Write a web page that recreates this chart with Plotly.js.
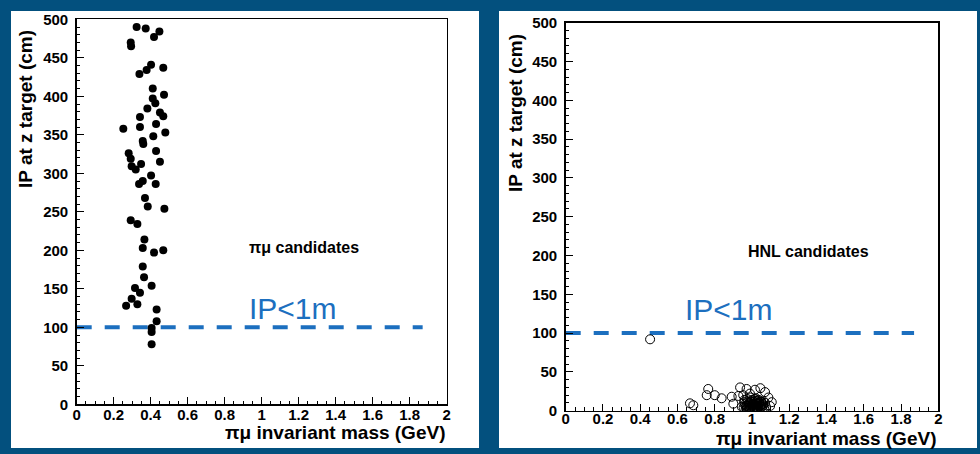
<!DOCTYPE html>
<html>
<head>
<meta charset="utf-8">
<script src="https://cdn.plot.ly/plotly-3.0.1.min.js"></script>
<style>html,body{margin:0;padding:0;background:#03507e;}#chart{width:980px;height:454px;}</style>
</head>
<body>
<div id="chart"></div>
<script>
// πμ candidates (left panel)
const pimuX = [0.324,0.373,0.447,0.418,0.292,0.294,0.468,0.402,0.378,0.339,0.411,0.472,0.411,0.425,0.382,0.450,0.468,0.342,0.252,0.342,0.479,0.429,0.414,0.357,0.360,0.429,0.281,0.292,0.450,0.348,0.297,0.319,0.402,0.357,0.337,0.427,0.369,0.384,0.474,0.292,0.328,0.366,0.357,0.418,0.468,0.357,0.364,0.405,0.315,0.342,0.297,0.267,0.328,0.432,0.432,0.405,0.405,0.405];
const pimuY = [490,488,484,477,470,465,437,441,434,429,410,402,397,391,384,379,374,373,358,360,353,364,348,342,338,329,326,319,315,312,309,305,297,290,286,286,268,257,254,239,234,214,203,197,200,179,165,154,151,145,137,128,130,123,108,99,94,78];

// HNL candidates (right panel)
const hnlX = [0.453,0.667,0.685,0.765,0.757,0.800,0.837,0.900,0.891,0.936,0.927,0.953,0.971,1.016,1.045,1.070,1.088,1.106,1.097,0.989,0.960,
  0.960,0.970,0.975,0.980,0.985,0.990,0.995,1.000,1.000,1.005,1.010,1.010,1.015,1.020,1.025,1.030,1.030,1.035,1.040,1.045,1.050,1.055,1.060,1.065,0.955,0.965,1.000,0.990,1.020,1.070,0.945,1.075,
  0.968,0.982,0.993,1.008,1.018,1.028,1.038,1.048,1.058,0.975,0.988,1.003,1.013,1.023,1.033,1.043,1.053,0.978,0.998,1.016,1.036,1.051,
  0.972,0.986,1.006,1.026,1.046,0.958,1.062,0.996,1.031,1.011];
const hnlY = [92,9.5,7,28,20,20,16,9,18,30,19,20,28,27,29,24,17,11,6,22,14,
  8,3,12,6,1,10,4,14,7,2,11,5,0.5,8,3,13,6,1,9,4,11,2,7,3,4,1,0.5,17,16,10,5,5,
  6,9,12,9,13,10,11,12,9,15,3,5,4,11,2,6,5,1,8,15,14,8,
  7,3,8,2,7,11,12,12,9,3];

// cut line IP < 1 m
const cutX = [0, 1.87];
const cutY = [100, 100];

const tickVals = [0,50,100,150,200,250,300,350,400,450,500];
const xTickVals = [0,0.2,0.4,0.6,0.8,1,1.2,1.4,1.6,1.8,2];
const xTickText = ['0','0.2','0.4','0.6','0.8','1','1.2','1.4','1.6','1.8','2'];

const W = 980, H = 454;
const px = v => v / W, py = v => 1 - v / H;

const blue = '#1c6fbf';
const tickFont = {family: 'Liberation Sans, Arial, sans-serif', size: 15, color: '#000', weight: 'bold'};

function xax(domain, anchor, standoff) {
  return {domain: domain, anchor: anchor, range: [0, 2], tickvals: xTickVals, ticktext: xTickText,
    ticks: 'inside', ticklen: 7, tickwidth: 1, tickcolor: '#000', showline: true, mirror: true,
    linecolor: '#000', linewidth: 1.5, showgrid: false, zeroline: false, tickfont: tickFont,
    ticklabelstandoff: standoff,
    minor: {dtick: 0.05, tick0: 0, ticks: 'inside', ticklen: 3.5, tickcolor: '#000', tickwidth: 1, showgrid: false}};
}
function yax(domain, anchor) {
  return {domain: domain, anchor: anchor, range: [0, 500], tickvals: tickVals,
    ticks: 'inside', ticklen: 7, tickwidth: 1, tickcolor: '#000', showline: true, mirror: true,
    linecolor: '#000', linewidth: 1.5, showgrid: false, zeroline: false, tickfont: tickFont,
    ticklabelstandoff: 4,
    minor: {dtick: 10, tick0: 0, ticks: 'inside', ticklen: 3.5, tickcolor: '#000', tickwidth: 1, showgrid: false}};
}

const data = [
  {x: cutX, y: cutY, xaxis: 'x', yaxis: 'y', mode: 'lines', line: {color: blue, width: 4, dash: '15px,13px'}, hoverinfo: 'skip'},
  {x: pimuX, y: pimuY, xaxis: 'x', yaxis: 'y', mode: 'markers', marker: {color: '#000', size: 8, symbol: 'circle'}},
  {x: cutX, y: cutY, xaxis: 'x2', yaxis: 'y2', mode: 'lines', line: {color: blue, width: 4, dash: '15px,13px'}, hoverinfo: 'skip'},
  {x: hnlX, y: hnlY, xaxis: 'x2', yaxis: 'y2', mode: 'markers', marker: {color: '#000', size: 9, symbol: 'circle-open', line: {color: '#000', width: 1}}}
];

const titleFont = {family: 'Liberation Sans, Arial, sans-serif', size: 19, color: '#000', weight: 'bold'};
const labFont = {family: 'Liberation Sans, Arial, sans-serif', size: 16, color: '#000', weight: 'bold'};
const cutFont = {family: 'Liberation Sans, Arial, sans-serif', size: 30, color: blue};

const layout = {
  width: W, height: H,
  margin: {l: 0, r: 0, t: 0, b: 0},
  paper_bgcolor: '#03507e', plot_bgcolor: 'rgba(0,0,0,0)',
  showlegend: false,
  xaxis: xax([px(76.7), px(446.7)], 'y', -4),
  yaxis: yax([py(404.3), py(19.3)], 'x'),
  xaxis2: xax([px(565.7), px(938.3)], 'y2', -6),
  yaxis2: yax([py(410.7), py(22.7)], 'x2'),
  shapes: [
    {type: 'rect', xref: 'paper', yref: 'paper', x0: px(11), x1: px(479), y0: py(448), y1: py(11), fillcolor: '#fff', line: {width: 0}, layer: 'below'},
    {type: 'rect', xref: 'paper', yref: 'paper', x0: px(499), x1: px(977), y0: py(448), y1: py(11), fillcolor: '#fff', line: {width: 0}, layer: 'below'}
  ],
  annotations: [
    {xref: 'paper', yref: 'paper', x: px(26), y: py(109), text: 'IP at z target (cm)', textangle: -90, showarrow: false, font: titleFont, xanchor: 'center', yanchor: 'middle'},
    {xref: 'paper', yref: 'paper', x: px(515), y: py(113), text: 'IP at z target (cm)', textangle: -90, showarrow: false, font: titleFont, xanchor: 'center', yanchor: 'middle'},
    {xref: 'paper', yref: 'paper', x: px(447), y: py(432), text: 'πμ invariant mass (GeV)', showarrow: false, font: titleFont, xanchor: 'right', yanchor: 'middle'},
    {xref: 'paper', yref: 'paper', x: px(938), y: py(438.5), text: 'πμ invariant mass (GeV)', showarrow: false, font: titleFont, xanchor: 'right', yanchor: 'middle'},
    {xref: 'x', yref: 'y', x: 0.92, y: 203, text: 'πμ candidates', showarrow: false, font: labFont, xanchor: 'left', yanchor: 'middle'},
    {xref: 'x2', yref: 'y2', x: 0.97, y: 205, text: 'HNL candidates', showarrow: false, font: labFont, xanchor: 'left', yanchor: 'middle'},
    {xref: 'x', yref: 'y', x: 0.92, y: 101, text: 'IP&lt;1m', showarrow: false, font: cutFont, xanchor: 'left', yanchor: 'bottom'},
    {xref: 'x2', yref: 'y2', x: 0.63, y: 107, text: 'IP&lt;1m', showarrow: false, font: cutFont, xanchor: 'left', yanchor: 'bottom'}
  ]
};

Plotly.newPlot('chart', data, layout, {staticPlot: true, displayModeBar: false});
</script>
</body>
</html>
